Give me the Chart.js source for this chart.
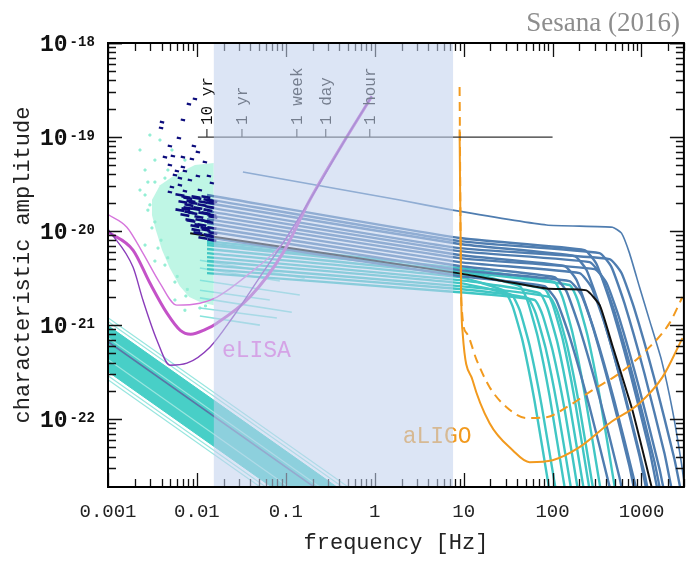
<!DOCTYPE html>
<html lang="en">
<head>
<meta charset="UTF-8">
<title>Characteristic amplitude vs frequency</title>
<script src="https://cdn.jsdelivr.net/npm/chart.js"></script>
<style>
  html, body { margin: 0; padding: 0; background: #fff; }
</style>
</head>
<body>
<canvas id="gwChart" width="691" height="561"></canvas>
<script>
// axis ranges and tick labels
const freqRange = [0.001, 3000];
const ampRange = [1.9e-23, 1e-18];
const xTickValues = [0.001, 0.01, 0.1, 1, 10, 100, 1000];
const xTickLabels = ['0.001', '0.01', '0.1', '1', '10', '100', '1000'];
const yTickValues = [1e-22, 1e-21, 1e-20, 1e-19, 1e-18];
const yTickExponents = ['-22', '-21', '-20', '-19', '-18'];

// eLISA band (shaded) and time-to-merger markers
const shadeRange = [0.0155, 7.6];
const timeLine = [[0.01026, 1e-19], [100, 1e-19]];
const timeFreqs = [0.01295, 0.0321, 0.133, 0.281, 0.879];
const timeLabels = ['10 yr', '1 yr', '1 week', '1 day', '1 hour'];
const curveLabels = ['eLISA', 'aLIGO'];
const curveLabelFreqs = [0.0191, 2.06];
const curveLabelAmps = [4.6e-22, 5.6e-23];

// detector sensitivity curves
const elisaTop = [[0.001,1.5e-20],[0.00163,1.10e-20],[0.00247,5.83e-21],[0.00384,2.80e-21],[0.00596,1.63e-21],[0.0108,1.71e-21],[0.0168,1.99e-21],[0.0394,3.57e-21],[0.0925,7.45e-21],[0.186,2.14e-20],[0.484,1.0e-19],[0.925,2.7e-19]];
const elisaMid = [[0.001,9.8e-21],[0.00191,6.28e-21],[0.00296,2.80e-21],[0.0046,1.34e-21],[0.0065,8.8e-22],[0.0085,8.0e-22],[0.0125,9.0e-22],[0.0168,1.05e-21],[0.0394,1.99e-21],[0.0925,5.83e-21],[0.186,2.14e-20],[0.484,1.0e-19],[0.925,2.7e-19]];
const elisaLow = [[0.001,1.05e-20],[0.00191,4.14e-21],[0.00247,1.85e-21],[0.00355,6.92e-22],[0.00497,3.75e-22],[0.00772,3.94e-22],[0.014,5.83e-22],[0.0254,1.22e-21],[0.051,3.24e-21],[0.1026,8.63e-21],[0.186,2.14e-20],[0.484,1.0e-19],[0.925,2.7e-19]];
const aligoDesign = [[9.0,1.2e-19],[9.4,1.85e-21],[9.75,8.22e-22],[12.6,2.60e-22],[19.6,9.06e-23],[35.6,4.68e-23],[55.2,3.49e-23],[100,3.66e-23],[201,5.04e-23],[437,9.06e-23],[950,1.48e-22],[1722,2.80e-22],[2891,7.28e-22]];
const aligoEarly = [[9.0,3.4e-19],[9.4,1.85e-21],[10.8,8.22e-22],[14.0,4.25e-22],[19.6,2.19e-22],[30.4,1.34e-22],[51.0,1.03e-22],[85.7,1.05e-22],[144,1.34e-22],[281,2.04e-22],[566,3.08e-22],[1138,5.42e-22],[2065,1.05e-21],[2891,1.99e-21]];

// stochastic background from the population (bottom left)
const bandFreqs = [0.001, 1];
const bandCoreAt1mHz = [9.88e-22, 3.20e-22];
const bandCoreAt1Hz = [9.88e-24, 3.20e-24];
const bandThinAt1mHz = [1.20e-21, 1.09e-21, 7.36e-22, 4.30e-22, 2.90e-22, 2.63e-22];
const bandThinAt1Hz = [1.20e-23, 1.09e-23, 7.36e-24, 4.30e-24, 2.90e-24, 2.63e-24];
const bandMedian = [[0.001, 6.67e-22], [1, 6.67e-24]];

// resolvable sources in the eLISA band
const mintUpper = [[0.00312,2.14e-20],[0.00384,3.08e-20],[0.00566,3.94e-20],[0.0095,5.04e-20],[0.0155,5.29e-20]];
const mintLower = [[0.00312,1.48e-20],[0.00345,1.03e-20],[0.00405,6.28e-21],[0.00495,4.04e-21],[0.0064,2.60e-21],[0.0082,1.99e-21],[0.011,1.75e-21],[0.0155,1.63e-21]];
const mintSpecks = [[0.00296,1.05e-19],[0.00229,7.28e-20],[0.00384,9.29e-20],[0.00261,4.46e-20],[0.00337,5.69e-20],[0.00437,3.66e-20],[0.00229,2.73e-20],[0.00281,3.32e-20],[0.00524,7.28e-20],[0.00261,7.10e-21],[0.00337,4.8e-21],[0.00566,1.85e-21],[0.00733,1.44e-21],
  [0.00281,1.67e-20],[0.00312,1.08e-20],[0.00365,6.59e-21],[0.00437,4.35e-21],[0.00566,2.87e-21],[0.00752,2.04e-21],[0.0108,1.52e-21],[0.00261,2.42e-20],[0.00337,3.32e-20],[0.00472,4.46e-20],[0.00733,5.69e-20],
  [0.00296,1.9e-20],[0.00337,1.25e-20],[0.00395,8.0e-21],[0.0047,5.2e-21],[0.006,3.3e-21],[0.0078,2.4e-21],[0.0125,1.6e-21]];
const navySparse = [[0.0095,2.54e-19],[0.00813,2.24e-19],[0.00696,1.52e-19],[0.00405,1.44e-19],[0.00395,1.25e-19],[0.00628,9.76e-20],[0.00497,8.02e-20],[0.00925,8.02e-20],[0.01026,6.92e-20],[0.00437,6.12e-20],[0.00537,6.28e-20],[0.00696,6.12e-20],[0.00879,5.83e-20],[0.0123,5.42e-20],[0.00497,5.04e-20],[0.00696,4.80e-20],[0.00596,4.35e-20],[0.00733,4.35e-20],[0.01026,3.85e-20],[0.01365,3.85e-20],[0.00566,3.94e-20],[0.00644,3.66e-20],[0.00834,3.49e-20],[0.01475,3.24e-20],[0.00524,2.94e-20],[0.00644,3.08e-20],[0.00733,2.66e-20],[0.0108,2.73e-20],[0.00497,2.60e-20]];
const navyDense = [[0.00644,2.42e-20],[0.00792,2.24e-20],[0.0100,2.24e-20],[0.0133,2.14e-20],[0.00696,2.04e-20],[0.00902,1.99e-20],[0.01167,2.04e-20],[0.01436,1.99e-20],[0.00792,1.76e-20],[0.01026,1.76e-20],[0.0133,1.67e-20],[0.00902,1.55e-20],[0.01167,1.55e-20],[0.01475,1.48e-20],[0.00834,1.31e-20],[0.0108,1.31e-20],[0.01365,1.25e-20],[0.0095,1.13e-20],[0.0123,1.08e-20],[0.01475,1.08e-20],[0.01026,9.52e-21],[0.0133,9.06e-21],[0.01167,8.43e-21],[0.01475,8.02e-21],[0.00733,1.48e-20],[0.00644,1.67e-20],
  [0.00752,2.30e-20],[0.00975,2.30e-20],[0.01262,2.30e-20],[0.01513,2.08e-20],[0.00857,2.08e-20],[0.01137,1.89e-20],[0.00813,1.89e-20],[0.0140,1.80e-20],[0.00975,1.71e-20],[0.01262,1.55e-20],[0.00813,1.59e-20],[0.01052,1.41e-20],[0.01513,1.41e-20],[0.00857,1.28e-20],[0.01262,1.28e-20],[0.01137,1.16e-20],[0.00975,1.03e-20],[0.01513,9.52e-21],[0.01262,1.03e-20],[0.0140,8.85e-21],[0.01052,1.16e-20],[0.00752,1.71e-20]];
const shortTracks = [
  [[0.0108,4.9e-21],[0.163,3.16e-21]],
  [[0.0108,4.05e-21],[0.0857,2.94e-21]],
  [[0.0108,3.0e-21],[0.1436,2.09e-21]],
  [[0.0108,2.35e-21],[0.0661,1.85e-21]],
  [[0.0108,1.95e-21],[0.1167,1.37e-21]],
  [[0.0108,1.52e-21],[0.0793,1.19e-21]],
  [[0.0108,1.25e-21],[0.0511,1.0e-21]]
];

// full inspiral-merger tracks
const blueTracks = [
  [[0.013,2.42e-20],[9,8.43e-21],[229,6.28e-21],[312,4.46e-21],[437,1.85e-21],[733,3.32e-22],[1232,4.68e-23],[1594,1.38e-23]],
  [[0.013,2.19e-20],[9,7.83e-21],[337,5.83e-21],[460,4.14e-21],[643,1.71e-21],[1078,3.08e-22],[1813,4.34e-23],[2346,1.28e-23]],
  [[0.013,1.99e-20],[9,7.28e-21],[177,5.42e-21],[241,3.85e-21],[338,1.59e-21],[566,2.87e-22],[952,4.04e-23],[1232,1.19e-23]],
  [[0.013,1.80e-20],[9,6.59e-21],[437,5.04e-21],[596,3.58e-21],[834,1.48e-21],[1398,2.67e-22],[2351,3.75e-23],[3041,1.10e-23]],
  [[0.013,1.63e-20],[9,6.12e-21],[261,4.68e-21],[356,3.32e-21],[498,1.38e-21],[835,2.48e-22],[1404,3.49e-23],[1817,1.02e-23]],
  [[0.013,1.48e-20],[9,5.56e-21],[136,4.25e-21],[186,3.02e-21],[260,1.25e-21],[435,2.25e-22],[732,3.17e-23],[947,9.3e-24]],
  [[0.013,1.34e-20],[9,5.16e-21],[297,3.94e-21],[405,2.80e-21],[567,1.16e-21],[950,2.08e-22],[1598,2.94e-23],[2067,8.6e-24]],
  [[0.013,1.22e-20],[9,4.68e-21],[201,3.57e-21],[274,2.53e-21],[384,1.05e-21],[643,1.89e-22],[1081,2.66e-23],[1399,7.8e-24]],
  [[0.013,1.10e-20],[9,4.25e-21],[105,3.24e-21],[143,2.30e-21],[200,9.5e-22],[336,1.71e-22],[565,2.41e-23],[731,7.1e-24]],
  [[0.013,1.00e-20],[9,3.85e-21],[155,2.94e-21],[211,2.09e-21],[296,8.6e-22],[496,1.56e-22],[834,2.19e-23],[1079,6.4e-24]],
  [[0.013,8.63e-21],[9,3.32e-21],[81,2.60e-21],[110,1.85e-21],[155,7.6e-22],[259,1.38e-22],[436,1.94e-23],[564,5.7e-24]]
];
const tealTracks = [
  [[0.013,7.83e-21],[9,4.04e-21],[105,2.87e-21],[129,1.99e-21],[167,8.4e-22],[228,1.94e-22],[336,2.14e-23],[436,4.9e-24]],
  [[0.013,7.10e-21],[9,3.75e-21],[42.6,2.60e-21],[52.4,1.80e-21],[67.9,7.6e-22],[92.6,1.76e-22],[136,1.94e-23],[177,4.4e-24]],
  [[0.013,6.44e-21],[9,3.49e-21],[81.3,2.42e-21],[100,1.67e-21],[130,7.1e-22],[177,1.64e-22],[260,1.80e-23],[337,4.1e-24]],
  [[0.013,5.83e-21],[9,3.24e-21],[28.9,2.30e-21],[35.5,1.59e-21],[46.0,6.8e-22],[62.8,1.55e-22],[92.5,1.71e-23],[120,3.9e-24]],
  [[0.013,5.29e-21],[9,3.01e-21],[71.4,2.19e-21],[87.8,1.52e-21],[114,6.4e-22],[155,1.48e-22],[228,1.63e-23],[296,3.7e-24]],
  [[0.013,4.80e-21],[9,2.80e-21],[34.6,2.09e-21],[42.6,1.45e-21],[55.1,6.1e-22],[75.2,1.41e-22],[111,1.56e-23],[144,3.6e-24]],
  [[0.013,4.35e-21],[9,2.60e-21],[92.5,1.99e-21],[114,1.38e-21],[147,5.9e-22],[201,1.35e-22],[296,1.48e-23],[384,3.4e-24]],
  [[0.013,3.94e-21],[9,2.42e-21],[52.4,1.94e-21],[64.5,1.34e-21],[83.5,5.7e-22],[114,1.31e-22],[168,1.45e-23],[217,3.3e-24]],
  [[0.013,3.57e-21],[9,2.24e-21],[62.8,1.85e-21],[77.2,1.28e-21],[100,5.4e-22],[137,1.25e-22],[201,1.38e-23],[261,3.2e-24]],
  [[0.013,7.45e-21],[9,3.71e-21],[155,2.67e-21],[191,1.85e-21],[247,7.8e-22],[337,1.80e-22],[496,1.99e-23],[643,4.6e-24]]
];
const loudTrack = [[0.0329,4.25e-20],[1.91,2.14e-20],[7.52,1.67e-20],[85.7,1.16e-20],[472,1.10e-20],[596,9.52e-21],[733,5.83e-21],[950,2.54e-21],[1230,1.13e-21],[1679,4.25e-22],[2230,1.25e-22],[2812,3.4e-23],[3460,8.4e-24]];
const medianTrack = [[0.0084,9.5e-21],[9,3.55e-21],[85,2.45e-21],[240,2.34e-21],[340,1.62e-21],[470,6.1e-22],[790,1.25e-22],[1300,1.9e-23],[1600,8.5e-24]];

const datasets = [];
function add(data, opts) {
  datasets.push(Object.assign({
    data: data.map(([x, y]) => ({ x, y })),
    pointRadius: 0, borderWidth: 1, fill: false, tension: 0
  }, opts));
}

add(mintUpper, { borderWidth: 0, backgroundColor: 'rgba(128,238,204,0.5)', fill: '+1', order: 100 });
add(mintLower, { borderWidth: 0, order: 100 });
add(mintSpecks, { showLine: false, pointRadius: 1.4, pointStyle: 'rect', backgroundColor: '#93eed4', borderColor: '#93eed4', order: 99 });

add([[bandFreqs[0], bandCoreAt1mHz[0]], [bandFreqs[1], bandCoreAt1Hz[0]]], { borderColor: '#48cfc7', backgroundColor: '#48cfc7', fill: '+1', order: 90 });
add([[bandFreqs[0], bandCoreAt1mHz[1]], [bandFreqs[1], bandCoreAt1Hz[1]]], { borderColor: '#48cfc7', order: 90 });
bandThinAt1mHz.forEach((h, i) => add([[bandFreqs[0], h], [bandFreqs[1], bandThinAt1Hz[i]]], { borderColor: '#98e6df', borderWidth: 1.2, order: 89 }));
add(bandMedian, { borderColor: '#5a74a6', borderWidth: 1.6, order: 88 });

shortTracks.forEach(t => add(t, { borderColor: '#86e4dc', borderWidth: 1.6, order: 80 }));
tealTracks.forEach(t => add(t, { borderColor: '#40c6c4', borderWidth: 2.4, tension: 0.15, order: 70 }));
blueTracks.forEach(t => add(t, { borderColor: '#4f7db0', borderWidth: 2.4, tension: 0.15, order: 60 }));
add(loudTrack, { borderColor: '#4f7db0', borderWidth: 1.6, tension: 0.15, order: 58 });
add(medianTrack, { borderColor: '#111111', borderWidth: 2, tension: 0.15, order: 50 });
add(navySparse, { showLine: false, pointRadius: 2.2, pointStyle: 'line', pointRotation: 12, borderColor: '#0c0c7c', pointBorderWidth: 2.2, order: 45 });
add(navyDense, { showLine: false, pointRadius: 4.5, pointStyle: 'line', pointRotation: 10, borderColor: '#0c0c7c', pointBorderWidth: 2.6, order: 44 });

add(elisaTop, { borderColor: '#d675dc', borderWidth: 1.4, cubicInterpolationMode: 'monotone', order: 32 });
add(elisaMid, { borderColor: '#c452c8', borderWidth: 3, cubicInterpolationMode: 'monotone', order: 31 });
add(elisaLow, { borderColor: '#8a3cba', borderWidth: 1.4, cubicInterpolationMode: 'monotone', order: 30 });
add(aligoEarly, { borderColor: '#f29a1e', borderWidth: 2, borderDash: [9, 6], cubicInterpolationMode: 'monotone', order: 21 });
add(aligoDesign, { borderColor: '#f29a1e', borderWidth: 2, cubicInterpolationMode: 'monotone', order: 20 });
add(timeLine, { borderColor: '#333333', borderWidth: 1.2, order: 10 });

function tickKind(v) {
  const e = Math.floor(Math.log10(v) + 1e-9);
  const m = v / Math.pow(10, e);
  if (Math.abs(m - Math.round(m)) > 1e-6) return 0;
  return Math.round(m) === 1 ? 2 : 1;
}

const decorPlugin = {
  id: 'decor',
  afterDatasetsDraw(chart) {
    const { ctx, chartArea: a } = chart;
    const x = chart.scales.x, y = chart.scales.y;
    ctx.save();

    // inward ticks on all four sides
    ctx.strokeStyle = '#111';
    ctx.lineWidth = 1.3;
    x.ticks.forEach(t => {
      if (t.value < x.min || t.value > x.max) return;
      const k = tickKind(t.value);
      if (!k) return;
      const px = Math.round(x.getPixelForValue(t.value)) + 0.5;
      const len = k === 2 ? 14 : 8;
      ctx.beginPath();
      ctx.moveTo(px, a.bottom); ctx.lineTo(px, a.bottom - len);
      ctx.moveTo(px, a.top); ctx.lineTo(px, a.top + len);
      ctx.stroke();
    });
    y.ticks.forEach(t => {
      if (t.value < y.min || t.value > y.max) return;
      const k = tickKind(t.value);
      if (!k) return;
      const py = Math.round(y.getPixelForValue(t.value)) + 0.5;
      const len = k === 2 ? 14 : 8;
      ctx.beginPath();
      ctx.moveTo(a.left, py); ctx.lineTo(a.left + len, py);
      ctx.moveTo(a.right, py); ctx.lineTo(a.right - len, py);
      ctx.stroke();
    });

    // time-to-merger markers
    const yT = y.getPixelForValue(timeLine[0][1]);
    ctx.strokeStyle = '#333';
    ctx.lineWidth = 1.2;
    ctx.fillStyle = '#111';
    ctx.font = '16px "Liberation Mono"';
    timeFreqs.forEach((f, i) => {
      const px = x.getPixelForValue(f);
      ctx.beginPath(); ctx.moveTo(px, yT); ctx.lineTo(px, yT - 8); ctx.stroke();
      ctx.save();
      ctx.translate(px + 1, yT - 12);
      ctx.rotate(-Math.PI / 2);
      ctx.textAlign = 'left';
      ctx.textBaseline = 'middle';
      ctx.fillText(timeLabels[i], 0, 0);
      ctx.restore();
    });

    // detector names
    ctx.font = '23px "Liberation Mono"';
    ctx.textAlign = 'left';
    ctx.textBaseline = 'alphabetic';
    const labelColors = ['#ee66dc', '#f29a1e'];
    curveLabels.forEach((s, i) => {
      ctx.fillStyle = labelColors[i];
      ctx.fillText(s, x.getPixelForValue(curveLabelFreqs[i]), y.getPixelForValue(curveLabelAmps[i]));
    });

    // translucent band over the eLISA window
    const x0 = x.getPixelForValue(shadeRange[0]);
    const x1 = x.getPixelForValue(shadeRange[1]);
    ctx.fillStyle = 'rgba(193,209,237,0.57)';
    ctx.fillRect(x0, a.top, x1 - x0, a.bottom - a.top);

    // frame
    ctx.strokeStyle = '#000';
    ctx.lineWidth = 2;
    ctx.strokeRect(a.left, a.top, a.right - a.left, a.bottom - a.top);

    // y tick labels 10^n
    ctx.fillStyle = '#111';
    yTickValues.forEach((v, i) => {
      const py = y.getPixelForValue(v);
      ctx.font = 'bold 23px "Liberation Mono"';
      ctx.textAlign = 'left';
      ctx.textBaseline = 'middle';
      ctx.fillText('10', 40, py + 2);
      const w = ctx.measureText('10').width;
      ctx.font = 'bold 14px "Liberation Mono"';
      ctx.textBaseline = 'top';
      ctx.fillText(yTickExponents[i], 40 + w + 2, py - 8);
    });

    // credit
    ctx.fillStyle = '#8d8d8d';
    ctx.font = '27px "Liberation Serif"';
    ctx.textAlign = 'right';
    ctx.textBaseline = 'alphabetic';
    ctx.fillText('Sesana (2016)', 680, 31);

    ctx.restore();
  }
};

new Chart(document.getElementById('gwChart').getContext('2d'), {
  type: 'line',
  data: { datasets },
  options: {
    responsive: false,
    animation: false,
    devicePixelRatio: 1,
    layout: { padding: { top: 43, right: 7, left: 0, bottom: 0 } },
    plugins: { legend: { display: false }, tooltip: { enabled: false } },
    scales: {
      x: {
        type: 'logarithmic',
        min: freqRange[0], max: freqRange[1],
        grid: { display: false },
        border: { display: false },
        afterFit: s => { s.height = 74; },
        ticks: {
          autoSkip: false, maxRotation: 0, minRotation: 0, padding: 6,
          color: '#222', font: { family: 'Liberation Mono', size: 19 },
          callback: v => {
            const i = xTickValues.findIndex(t => Math.abs(t - v) / t < 1e-6);
            return i >= 0 ? xTickLabels[i] : '';
          }
        },
        title: {
          display: true, text: 'frequency [Hz]', color: '#222',
          font: { family: 'Liberation Mono', size: 22 },
          padding: { top: 0, bottom: 5 }
        }
      },
      y: {
        type: 'logarithmic',
        min: ampRange[0], max: ampRange[1],
        grid: { display: false },
        border: { display: false },
        afterFit: s => { s.width = 108; },
        ticks: { display: false, autoSkip: false },
        title: {
          display: true, text: 'characteristic amplitude', color: '#222',
          font: { family: 'Liberation Mono', size: 22 },
          padding: { top: 10, bottom: 0 }
        }
      }
    }
  },
  plugins: [decorPlugin]
});
</script>
</body>
</html>
